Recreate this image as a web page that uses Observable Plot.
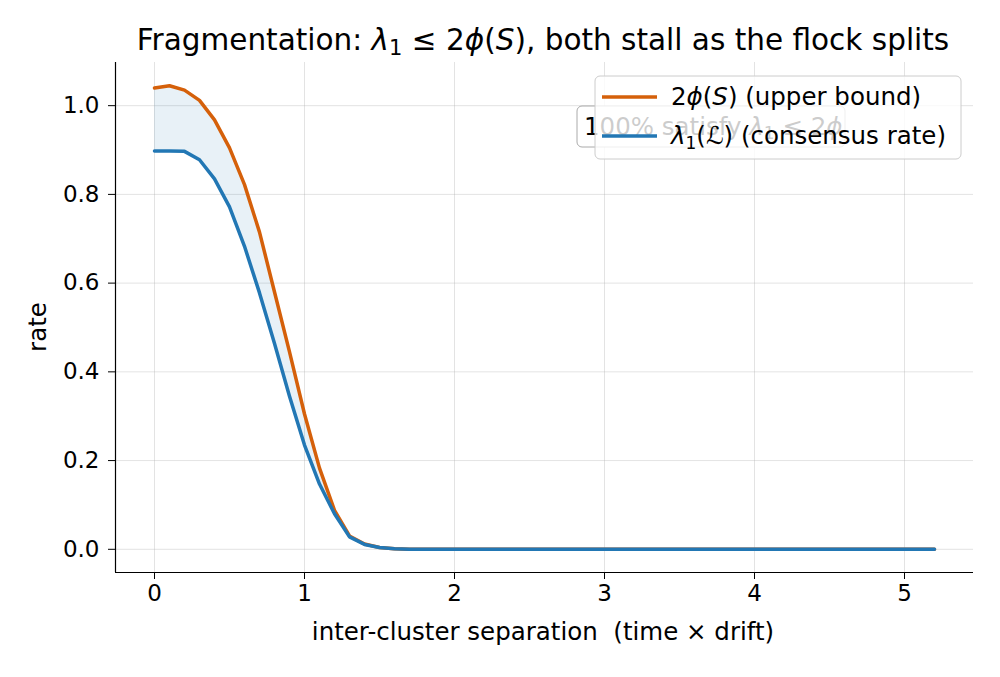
<!DOCTYPE html>
<html>
<head>
<meta charset="utf-8">
<script src="https://cdn.jsdelivr.net/npm/d3@7"></script>
<script src="https://cdn.jsdelivr.net/npm/@observablehq/plot@0.6"></script>
<style>
  html, body { margin: 0; padding: 0; background: #fff; }
  #chart svg { font-family: "DejaVu Sans", sans-serif; }
</style>
</head>
<body>
<div id="chart"></div>
<script>
const separation = [0.0,0.1,0.2,0.3,0.4,0.5,0.6,0.7,0.8,0.9,1.0,1.1,1.2,1.3,1.4,1.5,1.6,1.7,1.8,1.9,2.0,2.1,2.2,2.3,2.4,2.5,2.6,2.7,2.8,2.9,3.0,3.1,3.2,3.3,3.4,3.5,3.6,3.7,3.8,3.9,4.0,4.1,4.2,4.3,4.4,4.5,4.6,4.7,4.8,4.9,5.0,5.1,5.2];
const upperBound = [1.040,1.045,1.035,1.012,0.968,0.905,0.822,0.715,0.580,0.445,0.305,0.183,0.088,0.030,0.012,0.004,0.001,0,0,0,0,0,0,0,0,0,0,0,0,0,0,0,0,0,0,0,0,0,0,0,0,0,0,0,0,0,0,0,0,0,0,0,0];
const consensus = [0.898,0.898,0.897,0.878,0.835,0.772,0.683,0.578,0.464,0.345,0.235,0.147,0.080,0.028,0.011,0.004,0.001,0,0,0,0,0,0,0,0,0,0,0,0,0,0,0,0,0,0,0,0,0,0,0,0,0,0,0,0,0,0,0,0,0,0,0,0];
const xTicks = [0,1,2,3,4,5];
const yTicks = [0.0,0.2,0.4,0.6,0.8,1.0];

const data = separation.map((x, i) => ({x, phi: upperBound[i], lam: consensus[i]}));

const ORANGE = "#d5600a";
const BLUE = "#2277b4";
const FS = 23;
const LFS = 24.5;
const SUB = 17;

const xDomain = [-0.26, 5.46];
const yDomain = [-0.0523, 1.0973];

const plot = Plot.plot({
  width: 1000,
  height: 677,
  marginLeft: 115,
  marginRight: 27,
  marginTop: 62,
  marginBottom: 105,
  style: {fontFamily: "DejaVu Sans, sans-serif", fontSize: FS + "px", color: "#000", background: "#fff"},
  x: {domain: xDomain, label: null},
  y: {domain: yDomain, label: null},
  marks: [
    Plot.gridX(xTicks, {stroke: "#b0b0b0", strokeOpacity: 0.35, strokeWidth: 1}),
    Plot.gridY(yTicks, {stroke: "#b0b0b0", strokeOpacity: 0.35, strokeWidth: 1}),
    Plot.areaY(data, {x: "x", y1: "lam", y2: "phi", fill: BLUE, fillOpacity: 0.1}),
    Plot.line(data, {x: "x", y: "phi", stroke: ORANGE, strokeWidth: 3.5}),
    Plot.line(data, {x: "x", y: "lam", stroke: BLUE, strokeWidth: 3.5}),
    Plot.ruleX([xDomain[0]], {stroke: "#000", strokeWidth: 1.2}),
    Plot.ruleY([yDomain[0]], {stroke: "#000", strokeWidth: 1.2}),
    Plot.axisX(xTicks, {anchor: "bottom", tickSize: 7, tickPadding: 5, fontSize: FS, tickFormat: d3.format("d"), label: null}),
    Plot.axisY(yTicks, {anchor: "left", tickSize: 7, tickPadding: 9, fontSize: FS, tickFormat: d3.format(".1f"), label: null})
  ]
});

document.getElementById("chart").appendChild(plot);

const svg = d3.select(plot);

// Title with math-style italics
const title = svg.append("text")
  .attr("x", 543).attr("y", 50)
  .attr("text-anchor", "middle")
  .attr("font-size", 29.5)
  .attr("fill", "#000");
title.append("tspan").text("Fragmentation: ");
title.append("tspan").attr("font-style", "italic").text("λ");
title.append("tspan").attr("font-size", 21).attr("dy", 5).text("1");
title.append("tspan").attr("dy", -5).text(" ≤ 2");
title.append("tspan").attr("font-style", "italic").text("ϕ");
title.append("tspan").text("(");
title.append("tspan").attr("font-style", "italic").text("S");
title.append("tspan").text("), both stall as the flock splits");

// Axis labels
svg.append("text")
  .attr("x", 543).attr("y", 640)
  .attr("text-anchor", "middle")
  .attr("font-size", LFS)
  .text("inter-cluster separation  (time × drift)");

svg.append("text")
  .attr("transform", "translate(46,327) rotate(-90)")
  .attr("text-anchor", "middle")
  .attr("font-size", LFS)
  .text("rate");

// Annotation box (behind legend)
const ann = svg.append("g");
ann.append("rect")
  .attr("x", 577).attr("y", 106).attr("width", 268).attr("height", 41)
  .attr("rx", 5).attr("fill", "#fff").attr("stroke", "#aaa").attr("stroke-width", 1);
const annText = ann.append("text")
  .attr("x", 584).attr("y", 135).attr("font-size", LFS).attr("text-anchor", "start");
annText.append("tspan").text("100% satisfy ");
annText.append("tspan").attr("font-style", "italic").text("λ");
annText.append("tspan").attr("font-size", SUB).attr("dy", 4).text("1");
annText.append("tspan").attr("dy", -4).text(" ≤ 2");
annText.append("tspan").attr("font-style", "italic").text("ϕ");

// Legend
const leg = svg.append("g");
leg.append("rect")
  .attr("x", 595).attr("y", 76).attr("width", 366).attr("height", 83)
  .attr("rx", 5).attr("fill", "#fff").attr("fill-opacity", 0.8)
  .attr("stroke", "#cccccc").attr("stroke-width", 1);
leg.append("line").attr("x1", 602).attr("x2", 657).attr("y1", 97).attr("y2", 97)
  .attr("stroke", ORANGE).attr("stroke-width", 3.5);
leg.append("line").attr("x1", 602).attr("x2", 657).attr("y1", 136).attr("y2", 136)
  .attr("stroke", BLUE).attr("stroke-width", 3.5);
const l1 = leg.append("text").attr("x", 671).attr("y", 105).attr("font-size", LFS).attr("text-anchor", "start");
l1.append("tspan").text("2");
l1.append("tspan").attr("font-style", "italic").text("ϕ");
l1.append("tspan").text("(");
l1.append("tspan").attr("font-style", "italic").text("S");
l1.append("tspan").text(") (upper bound)");
const l2 = leg.append("text").attr("x", 671).attr("y", 144).attr("font-size", LFS).attr("text-anchor", "start");
l2.append("tspan").attr("font-style", "italic").text("λ");
l2.append("tspan").attr("font-size", SUB).attr("dy", 5).text("1");
l2.append("tspan").attr("dy", -5).text("(");
l2.append("tspan").attr("font-style", "italic").text("ℒ");
l2.append("tspan").text(") (consensus rate)");
</script>
</body>
</html>
